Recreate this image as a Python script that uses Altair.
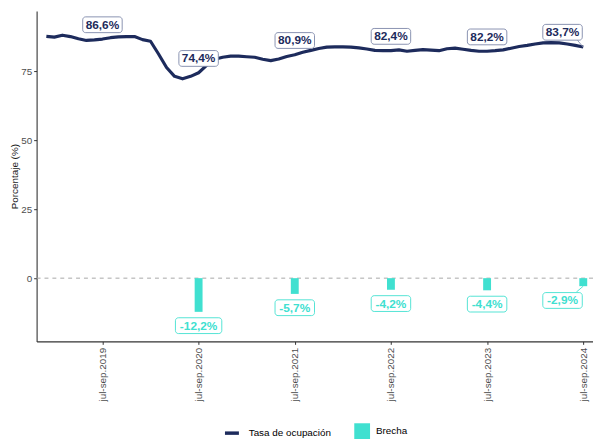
import altair as alt
import pandas as pd

# ---------------- data ----------------
# Tasa de ocupación (%), trimestres móviles (68 periodos)
tasa = [87.6, 87.3, 88.0, 87.5, 86.7, 86.1, 86.3, 86.6, 87.1, 87.4,
        87.5, 87.5, 86.4, 85.8, 81.2, 76.3, 73.1, 72.2, 73.1, 74.4,
        77.1, 79.3, 80.0, 80.4, 80.4, 80.2, 80.0, 79.3, 78.8, 79.4,
        80.3, 80.9, 81.8, 82.5, 83.2, 83.7, 83.8, 83.8, 83.7, 83.4,
        83.0, 82.5, 82.4, 82.4, 82.7, 82.2, 82.5, 82.8, 82.6, 82.4,
        83.1, 83.3, 82.9, 82.5, 82.2, 82.2, 82.4, 82.7, 83.3, 83.9,
        84.3, 84.8, 85.2, 85.3, 85.2, 84.8, 84.3, 83.7]

# periodos jul-sep de cada año (posición dentro de la serie)
anios = [2019, 2020, 2021, 2022, 2023, 2024]
idx_julsep = [7, 19, 31, 43, 55, 67]
tick_labels = ["jul-sep.2019", "jul-sep.2020", "jul-sep.2021",
               "jul-sep.2022", "jul-sep.2023", "jul-sep.2024"]
tasa_julsep = [86.6, 74.4, 80.9, 82.4, 82.2, 83.7]
brecha = [None, -12.2, -5.7, -4.2, -4.4, -2.9]

y_ticks = [0, 25, 50, 75]

# ---------------- style ----------------
NAVY = "#1d2b5c"
TURQ = "#40E0D0"
FONT = "Liberation Sans"


def fmt(v):
    return f"{v:.1f}%".replace(".", ",")


df_line = pd.DataFrame({"idx": list(range(len(tasa))), "valor": tasa,
                        "serie": "Tasa de ocupación"})
df_js = pd.DataFrame({"idx": idx_julsep, "anio": anios, "valor": tasa_julsep,
                      "brecha": brecha})
df_js["lab"] = df_js["valor"].map(fmt)
df_bar = df_js.dropna(subset=["brecha"]).copy()
df_bar["valor"] = df_bar["brecha"]
df_bar["lab"] = df_bar["brecha"].map(fmt)
df_bar["serie"] = "Brecha"
df_zero = pd.DataFrame({"valor": [0]})

label_expr = "".join(
    f"datum.value == {i} ? '{t}' : " for i, t in zip(idx_julsep, tick_labels)
) + "''"

xscale = alt.Scale(domain=[-0.6, 67.6], nice=False, zero=False)
yscale = alt.Scale(domain=[-22.9, 96.8], nice=False, zero=False)


def X():
    return alt.X("idx:Q", scale=xscale, title=None,
                 axis=alt.Axis(values=idx_julsep, labelExpr=label_expr,
                               labelAngle=270, grid=False))


def Y(field="valor"):
    return alt.Y(f"{field}:Q", scale=yscale, title="Porcentaje (%)",
                 axis=alt.Axis(values=y_ticks, grid=False))


zero = alt.Chart(df_zero).mark_rule(
    color="#a8a8a8", strokeDash=[4, 4], strokeWidth=1
).encode(y=Y())

line = alt.Chart(df_line).mark_line(
    strokeWidth=3.2, strokeJoin="round"
).encode(
    x=X(), y=Y(),
    stroke=alt.Stroke("serie:N",
                      scale=alt.Scale(domain=["Tasa de ocupación"], range=[NAVY]),
                      legend=alt.Legend(orient="none", legendX=189, legendY=419,
                                        title=None, symbolType="stroke",
                                        symbolSize=200, symbolStrokeWidth=3.5,
                                        labelFontSize=10, labelColor="#000000",
                                        labelOffset=8, labelFont=FONT))
)

bars = alt.Chart(df_bar).mark_bar(size=8).encode(
    x=X(), y=Y(),
    fill=alt.Fill("serie:N",
                  scale=alt.Scale(domain=["Brecha"], range=[TURQ]),
                  legend=alt.Legend(orient="none", legendX=322, legendY=418,
                                    title=None, symbolType="square",
                                    symbolSize=256, symbolStrokeWidth=0,
                                    labelFontSize=10, labelColor="#000000",
                                    labelOffset=6, labelFont=FONT))
)


def labels(df, dx, dy, border, txt):
    layers = []
    for n, sub in df.groupby(df["lab"].str.len()):
        w = 7 * n + 5
        box = alt.Chart(sub).mark_rect(
            fill="white", stroke=border, strokeWidth=0.9, cornerRadius=3,
            xOffset=dx - w / 2, x2Offset=dx + w / 2,
            yOffset=dy - 8, y2Offset=dy + 8
        ).encode(x=X(), x2="idx:Q", y=Y(), y2="valor:Q")
        text = alt.Chart(sub).mark_text(
            font=FONT, fontWeight="bold", fontSize=12, color=txt,
            dx=dx, dy=dy, align="center", baseline="middle"
        ).encode(x=X(), y=Y(), text="lab:N")
        layers += [box, text]
    return layers


last_year = max(anios)
line_lab_main = df_js[df_js["anio"] != last_year]
line_lab_last = df_js[df_js["anio"] == last_year]
bar_lab_main = df_bar[df_bar["anio"] != last_year]
bar_lab_last = df_bar[df_bar["anio"] == last_year]

leader_line = alt.Chart(line_lab_last).mark_rule(
    color="#8a93b3", strokeWidth=0.9, x2Offset=-6, y2Offset=-7
).encode(x=X(), x2="idx:Q", y=Y(), y2="valor:Q")
leader_bar = alt.Chart(bar_lab_last).mark_rule(
    color=TURQ, strokeWidth=0.9, x2Offset=-7, y2Offset=6
).encode(x=X(), x2="idx:Q", y=Y(), y2="valor:Q")

layers = [zero, line, bars, leader_line, leader_bar]
layers += labels(line_lab_main, 0, -14.5, "#7c86a8", NAVY)
layers += labels(line_lab_last, -21, -15, "#7c86a8", NAVY)
layers += labels(bar_lab_main, 0, 14, TURQ, TURQ)
layers += labels(bar_lab_last, -21, 14.5, TURQ, TURQ)

chart = alt.layer(*layers).properties(
    width=564, height=335,
    autosize=alt.AutoSizeParams(type="none"),
    padding={"left": 29, "top": 0, "right": 0, "bottom": 96},
).configure(font=FONT).configure_view(
    stroke="transparent"
).configure_axis(
    domainColor="#333333", domainWidth=1.1, tickColor="#333333", tickSize=3,
    tickWidth=1, labelFontSize=10, labelColor="#4d4d4d", labelPadding=2,
    titleFontSize=10, titleColor="#1a1a1a", titleFontWeight="normal",
    titlePadding=1, labelFont=FONT, titleFont=FONT
).configure_axisX(
    labelPadding=3
)

chart.save("out.html", embed_options={"renderer": "svg", "actions": False})
